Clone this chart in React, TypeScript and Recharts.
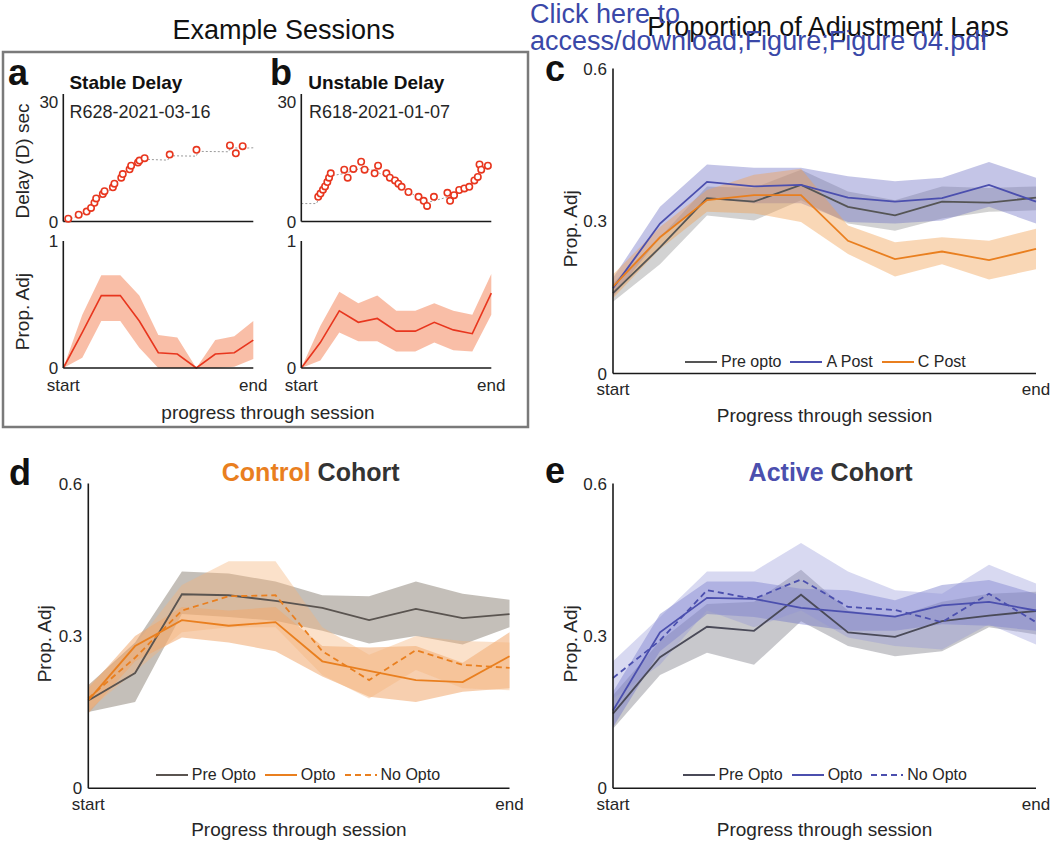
import type { JSX } from "react"
import { Area, ComposedChart, Legend, Line, Scatter, XAxis, YAxis } from "recharts"

const FONT = "'Liberation Sans', Arial, Helvetica, sans-serif"
const INK = "#262626"
const GREY = "#555555"
const BLUE = "#4b4fae"
const ORANGE = "#e97f1f"
const RED = "#e8361e"
const LINK = "#3a48a8"

// a/b top: delay of each adjustment (x = % of session)
const aTrialX = [2.6, 8.1, 12.3, 14.6, 16.4, 17.3, 20.8, 21.7, 26.1, 26.9, 30.5, 31.3, 34.9, 35.7, 39.3, 40.1, 42.8, 56.0, 70.1, 87.7, 90.8, 94.4]
const aTrialDelay = [0.7, 1.7, 2.5, 3.4, 4.7, 5.8, 6.9, 7.6, 8.6, 9.5, 11.0, 11.9, 13.1, 14.0, 14.8, 15.3, 15.9, 16.8, 18.0, 19.1, 17.1, 18.9]
const aTraceX = [0, 3, 8, 12, 15, 17, 21, 26, 31, 36, 40, 43, 55, 56, 70, 71, 87, 88, 95, 100]
const aTraceY = [0, 0.5, 1.5, 2.3, 3.2, 4.5, 6.8, 8.4, 11.6, 13.8, 15.0, 15.6, 15.4, 16.5, 16.4, 17.6, 17.5, 18.5, 18.4, 18.5]

const bTrialX = [8.9, 10.1, 11.4, 12.5, 13.7, 14.6, 15.5, 22.6, 24.4, 27.4, 31.5, 33.3, 38.6, 40.4, 44.8, 46.6, 49.3, 51.1, 52.8, 56.4, 61.7, 64.4, 66.2, 69.8, 76.9, 78.3, 80.4, 83.1, 85.8, 88.4, 91.1, 92.9, 93.8, 94.7, 98.2]
const bTrialDelay = [6.2, 7.0, 8.0, 8.8, 9.9, 11.0, 12.1, 13.0, 11.0, 13.2, 15.0, 13.0, 12.1, 14.0, 12.1, 11.0, 10.3, 9.5, 8.7, 7.4, 6.2, 5.2, 3.9, 6.2, 7.2, 5.2, 6.6, 7.9, 8.3, 8.7, 10.3, 11.2, 14.3, 13.0, 14.0]
const bTraceX = [0, 8, 10, 16, 22, 28, 32, 38, 44, 50, 56, 62, 66, 70, 76, 82, 88, 94, 100]
const bTraceY = [4.5, 4.5, 6.5, 11.5, 12, 12.8, 13.5, 12.8, 11.5, 9.8, 7.5, 6, 4.8, 5.2, 6, 7, 8.5, 12.5, 13.5]

// a/b bottom: proportion of adjustment laps, 11 bins
const aProp = [0, 0.28, 0.57, 0.57, 0.37, 0.12, 0.11, 0, 0.11, 0.12, 0.22]
const aPropLo = [0, 0.08, 0.37, 0.37, 0.16, 0, 0, 0, 0, 0.01, 0.07]
const aPropHi = [0, 0.42, 0.73, 0.73, 0.57, 0.26, 0.24, 0, 0.22, 0.25, 0.37]
const bProp = [0, 0.2, 0.45, 0.36, 0.39, 0.29, 0.29, 0.36, 0.3, 0.27, 0.59]
const bPropLo = [0, 0.06, 0.28, 0.21, 0.21, 0.13, 0.13, 0.2, 0.14, 0.13, 0.42]
const bPropHi = [0, 0.33, 0.6, 0.51, 0.57, 0.45, 0.45, 0.51, 0.45, 0.42, 0.74]

// c: 10 bins
const cPre = [0.158, 0.248, 0.345, 0.338, 0.371, 0.328, 0.311, 0.338, 0.336, 0.346]
const cPreLo = [0.141, 0.215, 0.311, 0.301, 0.341, 0.295, 0.281, 0.305, 0.318, 0.321]
const cPreHi = [0.178, 0.268, 0.368, 0.365, 0.401, 0.358, 0.341, 0.368, 0.365, 0.368]
const cAPost = [0.168, 0.295, 0.377, 0.368, 0.371, 0.346, 0.338, 0.345, 0.371, 0.338]
const cAPostLo = [0.151, 0.268, 0.345, 0.335, 0.335, 0.298, 0.295, 0.301, 0.328, 0.295]
const cAPostHi = [0.188, 0.328, 0.411, 0.405, 0.405, 0.388, 0.378, 0.385, 0.416, 0.385]
const cCPost = [0.171, 0.268, 0.341, 0.351, 0.351, 0.261, 0.225, 0.24, 0.223, 0.245]
const cCPostLo = [0.148, 0.245, 0.318, 0.315, 0.298, 0.235, 0.191, 0.215, 0.185, 0.205]
const cCPostHi = [0.195, 0.288, 0.361, 0.391, 0.403, 0.291, 0.258, 0.268, 0.261, 0.285]

// d: control cohort
const dPre = [0.173, 0.227, 0.382, 0.38, 0.369, 0.355, 0.331, 0.353, 0.335, 0.343]
const dPreLo = [0.15, 0.17, 0.343, 0.337, 0.33, 0.31, 0.285, 0.3, 0.283, 0.317]
const dPreHi = [0.203, 0.287, 0.427, 0.423, 0.407, 0.38, 0.378, 0.407, 0.383, 0.371]
const dOpto = [0.173, 0.28, 0.331, 0.32, 0.327, 0.25, 0.231, 0.213, 0.209, 0.26]
const dOptoLo = [0.147, 0.25, 0.297, 0.287, 0.27, 0.22, 0.18, 0.17, 0.19, 0.197]
const dOptoHi = [0.197, 0.3, 0.357, 0.35, 0.357, 0.28, 0.277, 0.28, 0.247, 0.307]
const dNoOpto = [0.177, 0.257, 0.35, 0.378, 0.38, 0.27, 0.213, 0.272, 0.243, 0.237]
const dNoOptoLo = [0.153, 0.23, 0.307, 0.317, 0.317, 0.223, 0.177, 0.233, 0.197, 0.193]
const dNoOptoHi = [0.203, 0.283, 0.4, 0.447, 0.447, 0.317, 0.263, 0.3, 0.29, 0.287]

// e: active cohort
const ePre = [0.147, 0.258, 0.318, 0.31, 0.381, 0.307, 0.298, 0.329, 0.34, 0.349]
const ePreLo = [0.117, 0.223, 0.267, 0.243, 0.329, 0.28, 0.26, 0.27, 0.317, 0.303]
const ePreHi = [0.183, 0.29, 0.363, 0.367, 0.43, 0.35, 0.337, 0.367, 0.383, 0.387]
const eOpto = [0.153, 0.307, 0.375, 0.373, 0.355, 0.347, 0.338, 0.36, 0.367, 0.35]
const eOptoLo = [0.12, 0.27, 0.343, 0.337, 0.323, 0.31, 0.31, 0.323, 0.32, 0.31]
const eOptoHi = [0.19, 0.343, 0.407, 0.407, 0.393, 0.39, 0.37, 0.4, 0.41, 0.383]
const eNoOpto = [0.217, 0.291, 0.39, 0.373, 0.411, 0.357, 0.351, 0.327, 0.383, 0.327]
const eNoOptoLo = [0.177, 0.243, 0.35, 0.317, 0.35, 0.297, 0.28, 0.273, 0.323, 0.283]
const eNoOptoHi = [0.25, 0.337, 0.427, 0.427, 0.483, 0.427, 0.39, 0.383, 0.44, 0.403]

const propTicks = [0, 0.3, 0.6]
const endTickLabels = ["start", "end"]

const axisLine = { stroke: "#1a1a1a", strokeWidth: 1.6 }
const tickStyle = { fontSize: 17, fill: INK, fontFamily: FONT }

const toPoints = (xs: number[], ys: number[]) => xs.map((x, k) => ({ x, y: ys[k] }))

const sessionRows = (mean: number[], lo: number[], hi: number[]) =>
  mean.map((v, i) => ({ i, mean: v, band: [lo[i], hi[i]] }))

const cohortRows = (sets: Record<string, [number[], number[], number[]]>) =>
  sets[Object.keys(sets)[0]][0].map((_, i) => {
    const row: Record<string, number | number[]> = { i }
    for (const key of Object.keys(sets)) {
      const [m, lo, hi] = sets[key]
      row[key] = m[i]
      row[`${key}Band`] = [lo[i], hi[i]]
    }
    return row
  })

const cRows = cohortRows({ pre: [cPre, cPreLo, cPreHi], aPost: [cAPost, cAPostLo, cAPostHi], cPost: [cCPost, cCPostLo, cCPostHi] })
const dRows = cohortRows({ pre: [dPre, dPreLo, dPreHi], opto: [dOpto, dOptoLo, dOptoHi], noOpto: [dNoOpto, dNoOptoLo, dNoOptoHi] })
const eRows = cohortRows({ pre: [ePre, ePreLo, ePreHi], opto: [eOpto, eOptoLo, eOptoHi], noOpto: [eNoOpto, eNoOptoLo, eNoOptoHi] })

function rotLabel(text: string, cx: number, cy: number) {
  return () => (
    <text
      x={cx}
      y={cy}
      dy="0.35em"
      transform={`rotate(-90 ${cx} ${cy})`}
      textAnchor="middle"
      fontSize={19}
      fill={INK}
      fontFamily={FONT}
    >
      {text}
    </text>
  )
}

function flatLabel(text: string, cx: number, baseline: number) {
  return () => (
    <text x={cx} y={baseline} textAnchor="middle" fontSize={19} fill={INK} fontFamily={FONT}>
      {text}
    </text>
  )
}

function openCircle(props: { cx?: number; cy?: number }): JSX.Element {
  return <circle cx={props.cx} cy={props.cy} r={3.2} fill="#fff" stroke={RED} strokeWidth={1.6} />
}

function legendContent(order: string[]) {
  return (props: { payload?: Array<{ value: string; color?: string; type?: string; payload?: { strokeDasharray?: string } }> }) => {
    const items = (props.payload ?? [])
      .filter((p) => p.type !== "none" && order.includes(p.value))
      .sort((p, q) => order.indexOf(p.value) - order.indexOf(q.value))
    return (
      <div style={{ display: "flex", alignItems: "center", fontFamily: FONT, fontSize: 16, color: INK, whiteSpace: "nowrap" }}>
        {items.map((p) => (
          <div key={p.value} style={{ display: "flex", alignItems: "center", marginRight: 9 }}>
            <svg width={32} height={10}>
              <line x1={0} y1={5} x2={32} y2={5} stroke={p.color} strokeWidth={2} strokeDasharray={p.payload?.strokeDasharray} />
            </svg>
            <span style={{ marginLeft: 4, lineHeight: "18px" }}>{p.value}</span>
          </div>
        ))}
      </div>
    )
  }
}

interface DelayPanelProps {
  left: number
  trialX: number[]
  trialDelay: number[]
  traceX: number[]
  traceY: number[]
  yLabel?: string
}

function DelayPanel(props: DelayPanelProps): JSX.Element {
  const { left, trialX, trialDelay, traceX, traceY, yLabel } = props
  return (
    <div style={{ position: "absolute", left, top: 88 }}>
      <ComposedChart width={260} height={146} margin={{ top: 6, right: 10.7, bottom: 9.5, left: 0 }}>
        <XAxis type="number" dataKey="x" domain={[0, 100]} height={3} tick={false} tickLine={false} axisLine={axisLine} />
        <YAxis
          type="number"
          domain={[0, 32]}
          ticks={[0, 30]}
          width={59.3}
          tickLine={false}
          tickSize={3}
          tickMargin={2}
          axisLine={axisLine}
          tick={tickStyle}
          interval={0}
          label={yLabel ? rotLabel(yLabel, 18, 73) : undefined}
        />
        <Line data={toPoints(traceX, traceY)} dataKey="y" stroke="#9a9a9a" strokeWidth={1} strokeDasharray="2 2" dot={false} isAnimationActive={false} />
        <Scatter data={toPoints(trialX, trialDelay)} dataKey="y" shape={openCircle} isAnimationActive={false} />
      </ComposedChart>
    </div>
  )
}

interface PropPanelProps {
  left: number
  mean: number[]
  lo: number[]
  hi: number[]
  yLabel?: string
}

function SessionPropPanel(props: PropPanelProps): JSX.Element {
  const { left, mean, lo, hi, yLabel } = props
  const last = mean.length - 1
  return (
    <div style={{ position: "absolute", left, top: 230 }}>
      <ComposedChart width={276} height={170} data={sessionRows(mean, lo, hi)} margin={{ top: 11, right: 26.7, bottom: 0, left: 0 }}>
        <XAxis
          type="number"
          dataKey="i"
          domain={[0, last]}
          ticks={[0, last]}
          interval={0}
          height={32}
          tickLine={false}
          tickSize={6}
          tickMargin={5}
          axisLine={axisLine}
          tick={tickStyle}
          tickFormatter={(v: number) => (v === 0 ? endTickLabels[0] : endTickLabels[1])}
        />
        <YAxis
          type="number"
          domain={[0, 1]}
          ticks={[0, 1]}
          width={59.3}
          interval={0}
          tickLine={false}
          tickSize={3}
          tickMargin={2}
          axisLine={axisLine}
          tick={tickStyle}
          label={yLabel ? rotLabel(yLabel, 18, 81.6) : undefined}
        />
        <Area type="linear" dataKey="band" stroke="none" fill="#f7a88a" fillOpacity={0.75} isAnimationActive={false} legendType="none" />
        <Line type="linear" dataKey="mean" stroke={RED} strokeWidth={1.6} dot={false} isAnimationActive={false} />
      </ComposedChart>
    </div>
  )
}

interface SeriesSpec {
  key: string
  name: string
  color: string
  band: string
  bandOpacity: number
  dashed?: boolean
}

interface CohortPanelProps {
  left: number
  top: number
  width: number
  height: number
  yAxisWidth: number
  rightMargin: number
  bottomMargin: number
  rows: Array<Record<string, number | number[]>>
  series: SeriesSpec[]
  yLabelX: number
  xLabelBaseline: number
  legendLeft: number
  legendTop: number
}

function CohortPanel(props: CohortPanelProps): JSX.Element {
  const { left, top, width, height, yAxisWidth, rightMargin, bottomMargin, rows, series, yLabelX, xLabelBaseline, legendLeft, legendTop } = props
  const plotCenter = yAxisWidth + (width - yAxisWidth - rightMargin) / 2
  return (
    <div style={{ position: "absolute", left, top }}>
      <ComposedChart width={width} height={height} data={rows} margin={{ top: 13.5, right: rightMargin, bottom: bottomMargin, left: 0 }}>
        <XAxis
          type="number"
          dataKey="i"
          domain={[0, 9]}
          ticks={[0, 9]}
          interval={0}
          height={30}
          tickLine={false}
          tickSize={6}
          tickMargin={3.5}
          axisLine={axisLine}
          tick={tickStyle}
          tickFormatter={(v: number) => (v === 0 ? endTickLabels[0] : endTickLabels[1])}
          label={flatLabel("Progress through session", plotCenter, xLabelBaseline)}
        />
        <YAxis
          type="number"
          domain={[0, 0.6]}
          ticks={propTicks}
          interval={0}
          width={yAxisWidth}
          tickLine={false}
          tickSize={4}
          tickMargin={2}
          axisLine={axisLine}
          tick={tickStyle}
          tickFormatter={(v: number) => (v === 0 ? "0" : String(v))}
          label={rotLabel("Prop. Adj", yLabelX, 173.8)}
        />
        {series.map((s) => (
          <Area
            key={`${s.key}Band`}
            type="linear"
            dataKey={`${s.key}Band`}
            stroke="none"
            fill={s.band}
            fillOpacity={s.bandOpacity}
            isAnimationActive={false}
            legendType="none"
          />
        ))}
        {series.map((s) => (
          <Line
            key={s.key}
            type="linear"
            dataKey={s.key}
            name={s.name}
            stroke={s.color}
            strokeWidth={1.8}
            strokeDasharray={s.dashed ? "6 4" : undefined}
            dot={false}
            isAnimationActive={false}
          />
        ))}
        <Legend
          layout="horizontal"
          verticalAlign="middle"
          align="center"
          content={legendContent(series.map((s) => s.name))}
          wrapperStyle={{ left: legendLeft, top: legendTop, width: "auto", height: 18 }}
        />
      </ComposedChart>
    </div>
  )
}

const cSeries: SeriesSpec[] = [
  { key: "pre", name: "Pre opto", color: GREY, band: "#8a8a8a", bandOpacity: 0.38 },
  { key: "aPost", name: "A Post", color: BLUE, band: "#6b6fc4", bandOpacity: 0.4 },
  { key: "cPost", name: "C Post", color: ORANGE, band: "#f0a050", bandOpacity: 0.42 },
]
const dSeries: SeriesSpec[] = [
  { key: "pre", name: "Pre Opto", color: "#5a5450", band: "#8a7f74", bandOpacity: 0.5 },
  { key: "opto", name: "Opto", color: ORANGE, band: "#f0a060", bandOpacity: 0.5 },
  { key: "noOpto", name: "No Opto", color: ORANGE, band: "#f5b57a", bandOpacity: 0.4, dashed: true },
]
const eSeries: SeriesSpec[] = [
  { key: "pre", name: "Pre Opto", color: "#4a4a58", band: "#85858f", bandOpacity: 0.45 },
  { key: "opto", name: "Opto", color: BLUE, band: "#6e72c8", bandOpacity: 0.42 },
  { key: "noOpto", name: "No Opto", color: BLUE, band: "#8e92d8", bandOpacity: 0.35, dashed: true },
]

export default function App(): JSX.Element {
  return (
    <div style={{ position: "absolute", left: 0, top: 0, width: 1050, height: 841, background: "#fff", fontFamily: FONT, overflow: "hidden" }}>
      <DelayPanel left={4} trialX={aTrialX} trialDelay={aTrialDelay} traceX={aTraceX} traceY={aTraceY} yLabel="Delay (D) sec" />
      <DelayPanel left={242.4} trialX={bTrialX} trialDelay={bTrialDelay} traceX={bTraceX} traceY={bTraceY} />
      <SessionPropPanel left={4} mean={aProp} lo={aPropLo} hi={aPropHi} yLabel="Prop. Adj" />
      <SessionPropPanel left={242.4} mean={bProp} lo={bPropLo} hi={bPropHi} />

      <CohortPanel left={540} top={55} width={510} height={375} yAxisWidth={73} rightMargin={14} bottomMargin={26.5} rows={cRows} series={cSeries} yLabelX={30.8} xLabelBaseline={367} legendLeft={145} legendTop={297.7} />
      <CohortPanel left={0} top={470} width={530} height={371} yAxisWidth={88.3} rightMargin={20.5} bottomMargin={22.7} rows={dRows} series={dSeries} yLabelX={44} xLabelBaseline={366} legendLeft={155.8} legendTop={296.3} />
      <CohortPanel left={540} top={470} width={510} height={371} yAxisWidth={73} rightMargin={14} bottomMargin={22.7} rows={eRows} series={eSeries} yLabelX={30.8} xLabelBaseline={366} legendLeft={142.6} legendTop={296.3} />

      <svg width={1050} height={841} style={{ position: "absolute", left: 0, top: 0, pointerEvents: "none" }} fontFamily={FONT}>
        <rect x={3} y={52} width={525} height={375} fill="none" stroke="#7a7a7a" strokeWidth={2.5} />
        <text x={283.6} y={39} textAnchor="middle" fontSize={27} fill="#111">Example Sessions</text>
        <text x={8} y={84.7} fontSize={36} fontWeight={900} fill="#111">a</text>
        <text x={69.4} y={88.7} fontSize={19} fontWeight={700} fill="#111">Stable Delay</text>
        <text x={69.4} y={118} fontSize={18} fill={INK}>R628-2021-03-16</text>
        <text x={270} y={84.7} fontSize={36} fontWeight={900} fill="#111">b</text>
        <text x={308.2} y={88.7} fontSize={19} fontWeight={700} fill="#111">Unstable Delay</text>
        <text x={309} y={118} fontSize={18} fill={INK}>R618-2021-01-07</text>
        <text x={268} y={418.6} textAnchor="middle" fontSize={19} fill={INK}>progress through session</text>

        <text x={828} y={35.6} textAnchor="middle" fontSize={27} fill="#111">Proportion of Adjustment Laps</text>
        <text x={530} y={23} fontSize={27} fill={LINK}>Click here to</text>
        <text x={530} y={49.5} fontSize={27} fill={LINK}>access/download;Figure;Figure 04.pdf</text>
        <text x={545} y={81} fontSize={36} fontWeight={900} fill="#111">c</text>

        <text x={9} y={484.7} fontSize={36} fontWeight={900} fill="#111">d</text>
        <text x={221.8} y={480.6} fontSize={25} fontWeight={700}>
          <tspan fill={ORANGE}>Control</tspan>
          <tspan fill="#333"> Cohort</tspan>
        </text>
        <text x={545} y={483} fontSize={36} fontWeight={900} fill="#111">e</text>
        <text x={748.6} y={480.6} fontSize={25} fontWeight={700}>
          <tspan fill={BLUE}>Active</tspan>
          <tspan fill="#333"> Cohort</tspan>
        </text>
      </svg>
    </div>
  )
}
